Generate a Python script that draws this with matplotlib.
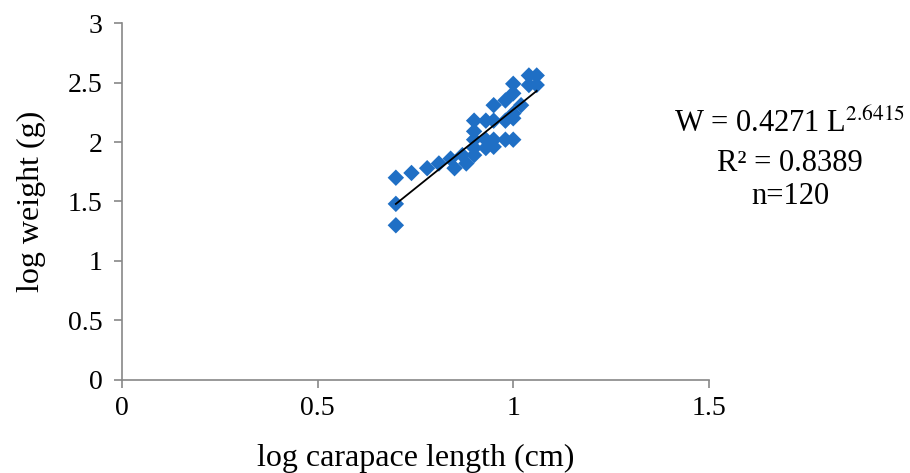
import numpy as np
import matplotlib
matplotlib.use("Agg")
import matplotlib.pyplot as plt

# log carapace length (cm) and log weight (g)
log_length = [0.70, 0.70, 0.70, 0.74, 0.78, 0.81, 0.84, 0.85, 0.87, 0.88,
              0.90, 0.90, 0.90, 0.90, 0.90, 0.93, 0.93, 0.93, 0.95, 0.95,
              0.95, 0.95, 0.98, 0.98, 0.98, 1.00, 1.00, 1.00, 1.00, 1.00,
              1.02, 1.04, 1.04, 1.06, 1.06]
log_weight = [1.70, 1.48, 1.30, 1.74, 1.78, 1.82, 1.86, 1.78, 1.89, 1.82,
              1.95, 2.02, 2.09, 2.18, 1.89, 2.18, 2.02, 1.95, 2.02, 1.96,
              2.18, 2.31, 2.02, 2.18, 2.35, 2.02, 2.20, 2.24, 2.41, 2.49,
              2.31, 2.56, 2.48, 2.56, 2.48]

# fitted power curve W = a L^b, drawn in log form
a = 0.4271
b = 2.6415
r2 = 0.8389
n = 120

plt.rcParams['font.family'] = ['Liberation Serif', 'DejaVu Serif']

fig = plt.figure(figsize=(9.1, 4.73), dpi=100)
ax = fig.add_axes([0.134, 0.197, 0.645, 0.754])

ax.scatter(log_length, log_weight, marker='D', s=70, color='#1F6FC5',
           edgecolors='none', zorder=3)

xfit = np.array([min(log_length), max(log_length)])
ax.plot(xfit, np.log10(a) + b * xfit, color='black', lw=1.3, zorder=4)

ax.set_xlim(0, 1.5)
ax.set_ylim(0, 3)
ax.set_xticks([0, 0.5, 1, 1.5])
ax.set_xticklabels(['0', '0.5', '1', '1.5'])
ax.set_yticks([0, 0.5, 1, 1.5, 2, 2.5, 3])
ax.set_yticklabels(['0', '0.5', '1', '1.5', '2', '2.5', '3'])

for side in ['top', 'right']:
    ax.spines[side].set_visible(False)
for side in ['left', 'bottom']:
    ax.spines[side].set_color('#888888')
    ax.spines[side].set_linewidth(1.2)
ax.tick_params(axis='both', colors='#888888', labelcolor='black',
               labelsize=20, length=6, width=1.2, direction='out')
ax.tick_params(axis='x', pad=6)
ax.tick_params(axis='y', pad=8)

ax.set_xlabel('log carapace length (cm)', fontsize=23, labelpad=16)
ax.set_ylabel('log weight (g)', fontsize=23, labelpad=16)

fig.text(0.868, 0.740, 'W = %.4f L$^{%.4f}$' % (a, b), ha='center', va='center',
         fontsize=22, math_fontfamily='stix')
fig.text(0.868, 0.655, 'R² = %.4f' % r2, ha='center', va='center', fontsize=22)
fig.text(0.868, 0.584, 'n=%d' % n, ha='center', va='center', fontsize=22)

fig.savefig('out.png', dpi=100)
